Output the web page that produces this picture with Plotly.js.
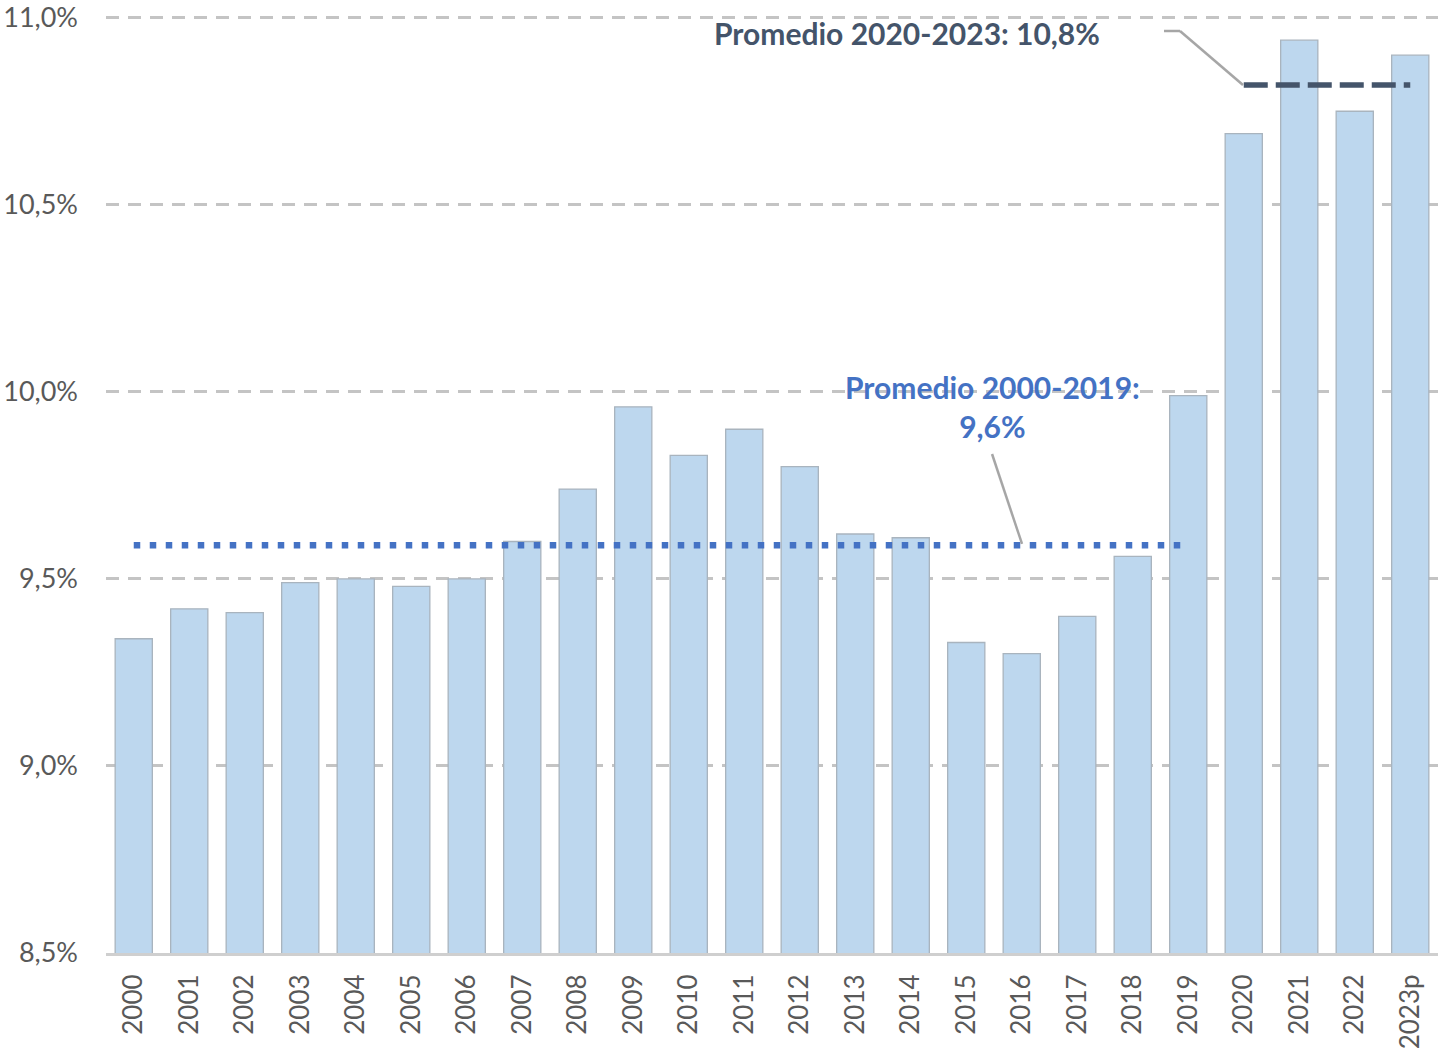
<!DOCTYPE html>
<html>
<head>
<meta charset="utf-8">
<script src="https://cdn.plot.ly/plotly-3.0.1.min.js"></script>
<style>
html,body{margin:0;padding:0;background:#fff;}
#chart{width:1438px;height:1051px;}
</style>
</head>
<body>
<div id="chart"></div>
<script>
const years = ['2000','2001','2002','2003','2004','2005','2006','2007','2008','2009','2010','2011','2012','2013','2014','2015','2016','2017','2018','2019','2020','2021','2022','2023p'];
const values = [9.34,9.42,9.41,9.49,9.50,9.48,9.50,9.60,9.74,9.96,9.83,9.90,9.80,9.62,9.61,9.33,9.30,9.40,9.56,9.99,10.69,10.94,10.75,10.90];
const avgYears1 = years.slice(0,20);
const avg1 = 9.59;
const avgYears2 = years.slice(20);
const avg2 = 10.82;
const yTickVals = [8.5,9.0,9.5,10.0,10.5,11.0];
const yTickText = ['8,5%','9,0%','9,5%','10,0%','10,5%','11,0%'];
const label1 = 'Promedio 2000-2019:<br>9,6%';
const label2 = 'Promedio 2020-2023: 10,8%';

const traces = [
  {type:'bar', x:years, y:values, marker:{color:'#BDD7EE', line:{color:'#A9B4BE', width:1.3}}, hoverinfo:'x+y'},
  {type:'scatter', mode:'lines', x:avgYears1, y:avgYears1.map(()=>avg1), line:{color:'#4472C4', width:6.5, dash:'6.5px,9.5px'}},
  {type:'scatter', mode:'lines', x:avgYears2, y:avgYears2.map(()=>avg2), line:{color:'#44546A', width:5.5, dash:'24px,8px'}}
];

const layout = {
  width:1438, height:1051,
  margin:{l:106, r:0, t:14, b:98},
  paper_bgcolor:'#fff', plot_bgcolor:'#fff',
  showlegend:false,
  bargap:0.33,
  font:{family:'Lato, "Open Sans", sans-serif', color:'#595959'},
  xaxis:{type:'category', tickangle:-90, tickfont:{size:26, color:'#595959'},
         showline:true, linecolor:'#CFCFCF', linewidth:3, ticks:'', ticklabelstandoff:8,
         showgrid:false, zeroline:false, fixedrange:true},
  yaxis:{range:[8.5,11.01], tickvals:yTickVals, ticktext:yTickText, tickfont:{size:27, color:'#595959'},
         showgrid:true, gridcolor:'#C4C4C4', gridwidth:3, griddash:'13px,9px',
         showline:false, zeroline:false, ticks:'', ticklabelstandoff:27, fixedrange:true},
  annotations:[
    {xref:'paper', yref:'paper', x:0.6652, y:0.5825, xanchor:'center', yanchor:'middle', text:label1, showarrow:false,
     font:{family:'Lato, "Open Sans", sans-serif', size:30, color:'#4472C4', weight:'bold'}, align:'center'},
    {xref:'paper', yref:'paper', x:0.601, y:0.9798, xanchor:'center', yanchor:'middle', text:label2, showarrow:false,
     font:{family:'Lato, "Open Sans", sans-serif', size:30, color:'#44546A', weight:'bold'}, align:'center'}
  ],
  shapes:[
    {type:'line', xref:'paper', yref:'paper', x0:0.7943, y0:0.9819, x1:0.8063, y1:0.9819, line:{color:'#A6A6A6', width:2.5}},
    {type:'line', xref:'paper', yref:'paper', x0:0.8063, y0:0.9819, x1:0.8536, y1:0.9244, line:{color:'#A6A6A6', width:2.5}},
    {type:'line', xref:'paper', yref:'paper', x0:0.6652, y0:0.5314, x1:0.6877, y1:0.4356, line:{color:'#A6A6A6', width:2.5}}
  ]
};
Plotly.newPlot('chart', traces, layout, {displayModeBar:false, staticPlot:true});
</script>
</body>
</html>
